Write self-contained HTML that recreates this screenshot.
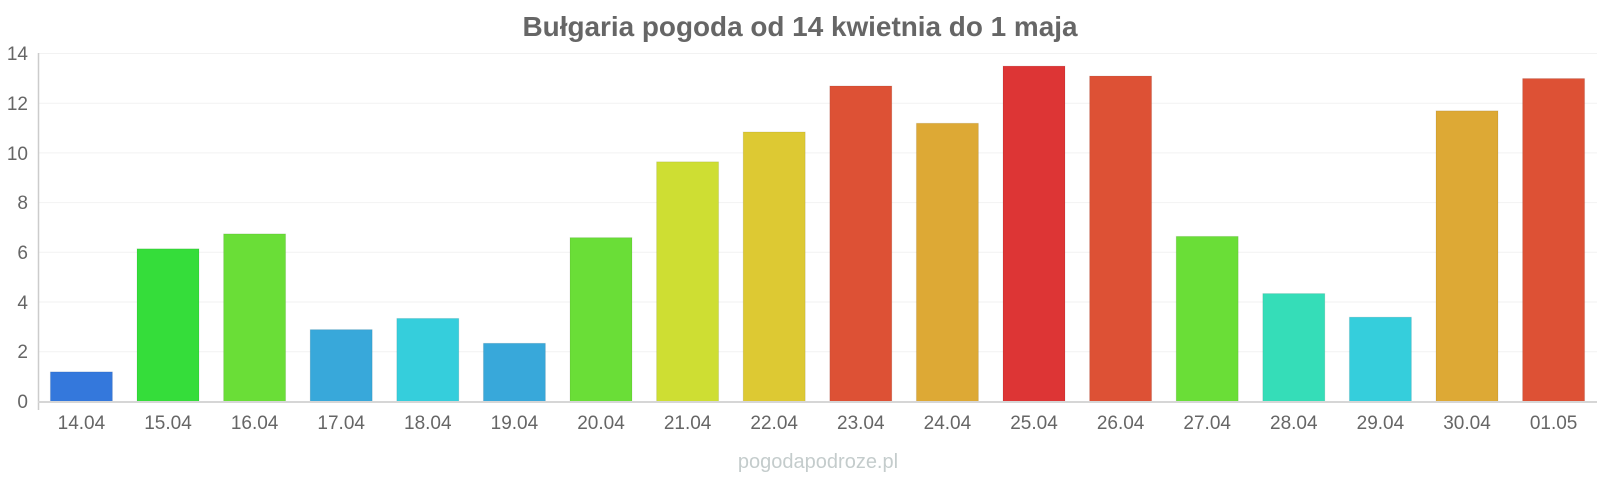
<!DOCTYPE html>
<html><head><meta charset="utf-8"><style>html,body{margin:0;padding:0;background:#fff;}svg{display:block;}</style></head>
<body>
<svg width="1600" height="480" xmlns="http://www.w3.org/2000/svg" font-family="Liberation Sans, Arial, sans-serif">
<text x="800" y="36" text-anchor="middle" font-size="28" font-weight="bold" fill="#666" textLength="555" lengthAdjust="spacingAndGlyphs">Bułgaria pogoda od 14 kwietnia do 1 maja</text>
<g stroke="#f2f2f2" stroke-width="1">
<line x1="38" x2="1597" y1="53.5" y2="53.5"/><line x1="38" x2="1597" y1="103.2" y2="103.2"/><line x1="38" x2="1597" y1="152.9" y2="152.9"/><line x1="38" x2="1597" y1="202.6" y2="202.6"/><line x1="38" x2="1597" y1="252.3" y2="252.3"/><line x1="38" x2="1597" y1="302" y2="302"/><line x1="38" x2="1597" y1="351.8" y2="351.8"/>
</g>
<g font-size="19" fill="#666" text-anchor="end">
<text x="28" y="60">14</text><text x="28" y="110">12</text><text x="28" y="160">10</text><text x="28" y="209">8</text><text x="28" y="259">6</text><text x="28" y="309">4</text><text x="28" y="358">2</text><text x="28" y="408">0</text>
</g>
<g id="bars"></g>
<line x1="38.5" x2="38.5" y1="53" y2="410" stroke="#ccc" stroke-width="1.5"/>
<line x1="38" x2="1597" y1="402" y2="402" stroke="#d6d6d6" stroke-width="2"/>
<g font-size="19" fill="#666" text-anchor="middle" id="labels"></g>
<text x="818" y="468" text-anchor="middle" font-size="20" fill="#c4cccc">pogodapodroze.pl</text>
<script>
var v=[1.2,6.15,6.75,2.9,3.35,2.35,6.6,9.65,10.85,12.7,11.2,13.5,13.1,6.65,4.35,3.4,11.7,13.0];
var c=["#3478dc","#35dd3a","#6ade37","#38a8da","#35cedc","#38a8da","#6ade37","#cede33","#ddc933","#dd5135","#dda935","#dd3535","#dd5135","#6ade37","#35ddb8","#35cedc","#dda935","#dd5135"];
var l=["14.04","15.04","16.04","17.04","18.04","19.04","20.04","21.04","22.04","23.04","24.04","25.04","26.04","27.04","28.04","29.04","30.04","01.05"];
var ns="http://www.w3.org/2000/svg",b=document.getElementById("bars"),g=document.getElementById("labels");
for(var i=0;i<18;i++){var x=38+i*86.6+12.4,h=v[i]*24.86;
var r=document.createElementNS(ns,"rect");r.setAttribute("x",x);r.setAttribute("y",401.7-h);r.setAttribute("width",62);r.setAttribute("height",h);r.setAttribute("fill",c[i]);r.setAttribute("stroke","rgba(0,0,0,0.08)");b.appendChild(r);
var t=document.createElementNS(ns,"text");t.setAttribute("x",x+31);t.setAttribute("y",429);t.textContent=l[i];g.appendChild(t);}
</script>
</svg>
</body></html>
